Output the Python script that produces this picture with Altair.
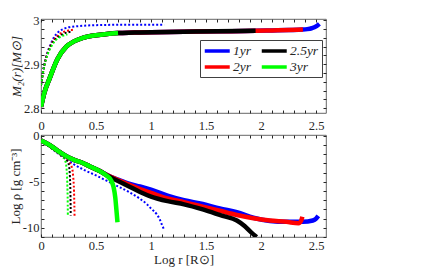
import altair as alt
import pandas as pd

# ---------------- top panel: M2(r) [Msun] ----------------
top_common_x = [0.0, 0.03, 0.08, 0.15, 0.23, 0.30, 0.38, 0.50, 0.60, 0.70]
top_common_y = [2.803, 2.835, 2.869, 2.912, 2.940, 2.952, 2.960, 2.966, 2.969, 2.971]

top_3yr_x = top_common_x
top_3yr_y = top_common_y
top_25yr_x = top_common_x + [0.85, 1.0, 1.3, 1.6, 1.95]
top_25yr_y = top_common_y + [2.972, 2.973, 2.974, 2.975, 2.976]
top_2yr_x = top_common_x + [0.85, 1.0, 1.3, 1.6, 1.95, 2.1, 2.25, 2.38]
top_2yr_y = top_common_y + [2.972, 2.973, 2.974, 2.975, 2.976, 2.977, 2.978, 2.979]
top_1yr_x = top_2yr_x + [2.42, 2.46, 2.50, 2.53]
top_1yr_y = top_2yr_y + [2.980, 2.982, 2.986, 2.992]

# dotted curves (top)
top_dot_blue_x = [0.0, 0.03, 0.06, 0.09, 0.12, 0.16, 0.20, 0.25, 0.35, 0.50, 0.80, 1.12]
top_dot_blue_y = [2.852, 2.900, 2.928, 2.947, 2.962, 2.974, 2.980, 2.984, 2.987, 2.989, 2.990, 2.990]
top_dot_red_x = [0.0, 0.03, 0.06, 0.09, 0.12, 0.16, 0.20, 0.25, 0.30]
top_dot_red_y = [2.852, 2.898, 2.926, 2.944, 2.957, 2.967, 2.973, 2.977, 2.979]
top_dot_black_x = [0.0, 0.03, 0.06, 0.09, 0.12, 0.16, 0.20, 0.27]
top_dot_black_y = [2.852, 2.897, 2.924, 2.942, 2.954, 2.963, 2.969, 2.974]
top_dot_green_x = [0.0, 0.03, 0.06, 0.09, 0.12, 0.16, 0.20, 0.24]
top_dot_green_y = [2.852, 2.896, 2.922, 2.939, 2.951, 2.960, 2.965, 2.968]

# ---------------- bottom panel: Log rho ----------------
bot_common_x = [0.0, 0.08, 0.15, 0.23, 0.30, 0.38, 0.45, 0.53]
bot_common_y = [-0.5, -1.0, -1.6, -2.2, -2.6, -2.95, -3.35, -3.8]

bot_3yr_x = bot_common_x + [0.60, 0.64, 0.66, 0.675, 0.685, 0.695]
bot_3yr_y = bot_common_y + [-4.35, -4.9, -5.6, -6.7, -8.0, -9.4]
bot_25yr_x = bot_common_x + [0.6, 0.7, 0.8, 0.9, 1.0, 1.15, 1.3, 1.47, 1.65, 1.78, 1.85, 1.91, 1.96]
bot_25yr_y = bot_common_y + [-4.3, -4.9, -5.5, -6.1, -6.6, -7.1, -7.45, -8.0, -8.7, -9.2, -9.8, -10.5, -11.0]
bot_2yr_x = bot_common_x + [0.6, 0.7, 0.8, 0.9, 1.0, 1.15, 1.3, 1.47, 1.625, 1.78, 1.93, 2.08, 2.23, 2.34, 2.365, 2.375]
bot_2yr_y = bot_common_y + [-4.25, -4.8, -5.3, -5.8, -6.2, -6.8, -7.2, -7.7, -8.15, -8.6, -8.95, -9.2, -9.35, -9.5, -9.2, -8.8]
bot_1yr_x = bot_common_x + [0.6, 0.7, 0.8, 0.9, 1.0, 1.15, 1.3, 1.47, 1.625, 1.78, 1.93, 2.08, 2.23, 2.38, 2.47, 2.50, 2.52]
bot_1yr_y = bot_common_y + [-4.25, -4.75, -5.2, -5.5, -5.85, -6.5, -7.0, -7.4, -7.9, -8.3, -8.9, -9.25, -9.35, -9.35, -9.2, -9.0, -8.7]

bot_dot_blue_x = [0.0, 0.1, 0.2, 0.3, 0.4, 0.5, 0.6, 0.7, 0.8, 0.9, 0.96, 1.0, 1.05, 1.08, 1.10, 1.115]
bot_dot_blue_y = [-0.5, -1.4, -2.3, -3.1, -3.75, -4.3, -4.9, -5.5, -6.1, -6.85, -7.4, -7.9, -8.5, -9.1, -9.7, -10.1]
bot_dot_green_x = [0.0, 0.08, 0.15, 0.20, 0.22, 0.23, 0.237, 0.241, 0.243, 0.244]
bot_dot_green_y = [-0.5, -1.2, -1.8, -2.3, -2.7, -3.3, -4.5, -6.0, -7.5, -8.6]
bot_dot_black_x = [0.0, 0.08, 0.15, 0.20, 0.24, 0.255, 0.263, 0.267, 0.269, 0.270]
bot_dot_black_y = [-0.5, -1.2, -1.8, -2.3, -2.75, -3.3, -4.5, -6.0, -7.5, -8.7]
bot_dot_red_x = [0.0, 0.08, 0.15, 0.20, 0.25, 0.28, 0.293, 0.300, 0.303, 0.305]
bot_dot_red_y = [-0.5, -1.2, -1.8, -2.3, -2.8, -3.4, -4.5, -6.0, -7.5, -8.8]

series_names = ["1yr", "2yr", "2.5yr", "3yr"]
series_colors = ["#0000FF", "#FF0000", "#000000", "#00FF00"]

x_ticks = [round(i * 0.1, 1) for i in range(26)]
x_labels = ["0", "0.5", "1", "1.5", "2", "2.5"]
top_y_ticks = [round(2.8 + i * 0.02, 2) for i in range(11)]
top_y_labels = ["2.8", "2.9", "3"]
bot_y_ticks = list(range(-11, 1))
bot_y_labels = ["0", "-5", "-10"]

X_DOMAIN = [0, 2.59]
TOP_Y_DOMAIN = [2.789, 3.003]
BOT_Y_DOMAIN = [-11.0, 0.1]
W = 285
TOP_H = 94
BOT_H = 102
FONT = "Liberation Serif"
AX = "#262626"
LBL = 12.5
TTL = 13


def df(x, y, name):
    return pd.DataFrame({"x": x, "y": y, "series": name})


def label_expr(labels):
    arr = "[" + ",".join("'" + s + "'" for s in labels) + "]"
    return "indexof(" + arr + ", '' + datum.value) >= 0 ? '' + datum.value : ''"


def axis_x(orient, labels, title, pad):
    kw = dict(orient=orient, values=x_ticks, domain=False, grid=False, tickSize=3,
              offset=-3, tickColor=AX, labels=labels, title=title)
    if labels:
        kw.update(labelExpr=label_expr(x_labels), labelPadding=pad, labelFont=FONT,
                  labelFontSize=LBL, labelColor=AX, labelFlush=False)
    if title:
        kw.update(titleFont=FONT, titleFontSize=TTL, titleFontWeight="normal",
                  titleColor=AX, titlePadding=2)
    return alt.Axis(**kw)


def axis_y(orient, ticks, lbls, labels, title, italic=False):
    kw = dict(orient=orient, values=ticks, domain=False, grid=False, tickSize=3,
              offset=-3, tickColor=AX, labels=labels, title=title)
    if labels:
        kw.update(labelExpr=label_expr(lbls), labelPadding=2, labelFont=FONT,
                  labelFontSize=LBL, labelColor=AX, labelFlush=False)
    if title:
        kw.update(titleFont=FONT, titleFontSize=TTL, titleFontWeight="normal",
                  titleColor=AX, titlePadding=0,
                  titleFontStyle="italic" if italic else "normal")
    return alt.Axis(**kw)


def panel(solid, dotted, ydom, ticks, lbls, ytitle, xtitle, xpad, height, legend, italic):
    xs = alt.Scale(domain=X_DOMAIN, nice=False, zero=False)
    ys = alt.Scale(domain=ydom, nice=False, zero=False)
    cs = alt.Scale(domain=series_names, range=series_colors)
    layers = []
    first = True
    for (x, y, col) in dotted:
        if first:
            xa = axis_x("bottom", True, xtitle, xpad)
            ya = axis_y("left", ticks, lbls, True, ytitle, italic)
        else:
            xa = None
            ya = None
        layers.append(
            alt.Chart(df(x, y, "d")).mark_line(
                color=col, strokeWidth=2, strokeDash=[2, 2], clip=True, interpolate="monotone"
            ).encode(
                x=alt.X("x:Q", scale=xs, axis=xa),
                y=alt.Y("y:Q", scale=ys, axis=ya),
            )
        )
        first = False
    second = True
    for (x, y, name) in solid:
        if second:
            xa = axis_x("top", False, None, 0)
            ya = axis_y("right", ticks, lbls, False, None)
        else:
            xa = None
            ya = None
        leg = alt.Legend(
            orient="none", legendX=159, legendY=21, columns=2, title=None,
            values=series_names, gridAlign="each",
            symbolType="M-1,0H3", symbolSize=156, symbolStrokeWidth=3.5,
            labelFont=FONT, labelFontSize=13.5, labelFontStyle="italic", labelColor=AX,
            strokeColor="#404040", fillColor="white", padding=3,
            columnPadding=3, rowPadding=1, labelOffset=14, cornerRadius=0,
        ) if legend else None
        layers.append(
            alt.Chart(df(x, y, name)).mark_line(
                strokeWidth=4.5, clip=True, interpolate="monotone"
            ).encode(
                x=alt.X("x:Q", scale=xs, axis=xa),
                y=alt.Y("y:Q", scale=ys, axis=ya),
                color=alt.Color("series:N", scale=cs, legend=leg),
            )
        )
        second = False
    return alt.layer(*layers).properties(width=W, height=height)


top = panel(
    solid=[(top_1yr_x, top_1yr_y, "1yr"), (top_2yr_x, top_2yr_y, "2yr"),
           (top_25yr_x, top_25yr_y, "2.5yr"), (top_3yr_x, top_3yr_y, "3yr")],
    dotted=[(top_dot_blue_x, top_dot_blue_y, "#0000FF"), (top_dot_red_x, top_dot_red_y, "#FF0000"),
            (top_dot_black_x, top_dot_black_y, "#000000"), (top_dot_green_x, top_dot_green_y, "#00FF00")],
    ydom=TOP_Y_DOMAIN, ticks=top_y_ticks, lbls=top_y_labels,
    ytitle="M₂(r)[M⊙]", xtitle=None, xpad=6, height=TOP_H, legend=True, italic=True,
)

bottom = panel(
    solid=[(bot_1yr_x, bot_1yr_y, "1yr"), (bot_2yr_x, bot_2yr_y, "2yr"),
           (bot_25yr_x, bot_25yr_y, "2.5yr"), (bot_3yr_x, bot_3yr_y, "3yr")],
    dotted=[(bot_dot_blue_x, bot_dot_blue_y, "#0000FF"), (bot_dot_red_x, bot_dot_red_y, "#FF0000"),
            (bot_dot_black_x, bot_dot_black_y, "#000000"), (bot_dot_green_x, bot_dot_green_y, "#00FF00")],
    ydom=BOT_Y_DOMAIN, ticks=bot_y_ticks, lbls=bot_y_labels,
    ytitle="Log ρ [g cm⁻³]", xtitle="Log r [R⊙]", xpad=2, height=BOT_H, legend=False, italic=False,
)

chart = alt.vconcat(top, bottom, spacing=22, bounds="flush").resolve_legend(
    color="independent"
).configure(
    padding={"left": 0, "top": 5, "right": 5, "bottom": 0},
    background="white",
    font=FONT,
).configure_view(
    stroke="#404040", strokeWidth=0.8
)

chart.save("out.html", embed_options={"renderer": "svg", "actions": False})
